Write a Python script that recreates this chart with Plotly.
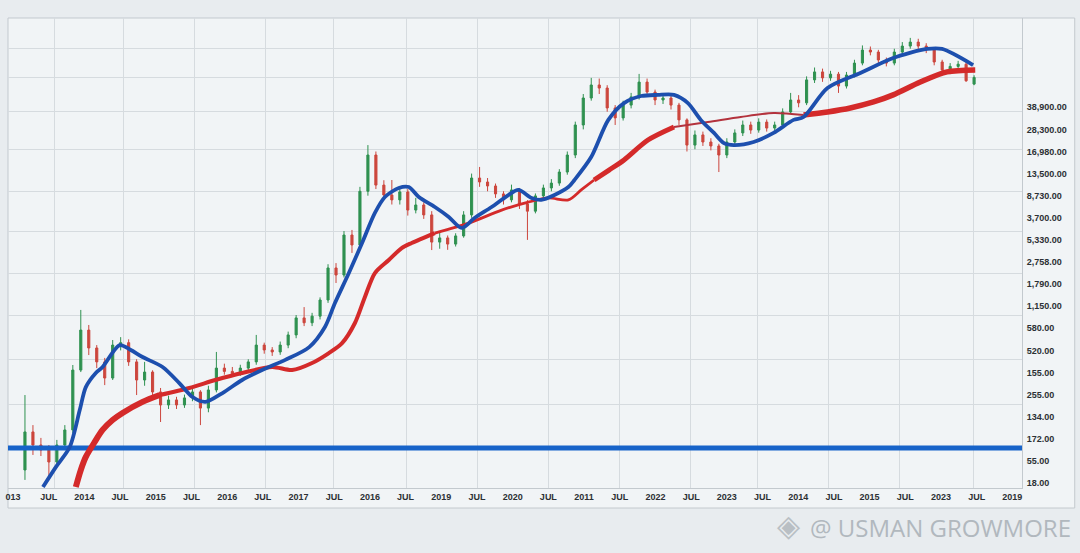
import numpy as np
import plotly.graph_objects as go

# ---------------- data ----------------
x_labels = ["013", "JUL", "2014", "JUL", "2015", "JUL", "2016", "JUL", "2017", "JUL",
            "2016", "JUL", "2019", "JUL", "2020", "JUL", "2011", "JUL", "2022", "JUL",
            "2023", "JUL", "2014", "JUL", "2015", "JUL", "2023", "JUL", "2019"]
y_labels = ["18.00", "55.00", "172.00", "134.00", "255.00", "155.00", "520.00", "580.00",
            "1,150.00", "1,790.00", "2,758.00", "5,330.00", "3,700.00", "8,730.00",
            "13,500.00", "16,980.00", "28,300.00", "38,900.00"]

# candles (values in axis units)
c_open = [0.59, 2.31, 1.72, 1.49, 0.95, 1.72, 2.40, 5.11, 6.92, 6.11,
          5.48, 4.75, 6.24, 6.35, 5.48, 4.66, 5.02, 4.12, 3.53, 3.76,
          3.53, 3.85, 4.12, 3.39, 4.21, 5.20, 5.05, 4.95, 5.20, 5.48,
          6.24, 6.02, 5.93, 6.24, 6.70, 7.47, 7.25, 7.55, 8.28, 9.73,
          9.41, 11.22, 10.77, 13.20, 14.84, 13.48, 13.03, 12.81, 13.17, 12.35,
          12.58, 12.13, 10.90, 11.09, 10.81, 11.18, 12.13, 13.80, 13.62, 13.44,
          13.08, 12.81, 13.26, 12.62, 12.30, 12.99, 13.35, 13.57, 14.07, 14.84,
          16.20, 17.42, 18.01, 17.87, 16.97, 16.52, 17.10, 17.47, 18.14, 17.69,
          17.33, 17.42, 17.10, 16.43, 15.29, 15.75, 15.43, 15.25, 14.84, 15.43,
          15.84, 16.20, 15.97, 16.33, 16.06, 16.20, 16.79, 17.33, 17.20, 18.24,
          18.60, 18.33, 18.50, 17.96, 18.46, 19.00, 19.59, 19.50, 19.14, 19.00,
          19.50, 19.77, 19.95, 19.77, 19.60, 19.05, 18.69, 18.85, 18.95, 18.05]
c_high = [3.98, 2.62, 2.04, 1.72, 1.95, 2.62, 5.34, 7.83, 7.15, 6.24,
          5.66, 6.47, 6.60, 6.50, 5.60, 5.48, 5.10, 4.30, 3.95, 3.90,
          4.00, 4.30, 4.20, 4.40, 5.93, 5.40, 5.25, 5.35, 5.60, 6.70,
          6.35, 6.15, 6.40, 6.85, 7.60, 7.96, 7.70, 8.40, 9.90, 9.95,
          11.40, 11.45, 13.40, 15.29, 15.00, 13.70, 13.71, 13.40, 13.30, 12.90,
          12.70, 12.30, 11.35, 11.20, 11.30, 12.30, 14.00, 14.30, 13.80, 13.55,
          13.20, 13.50, 13.35, 12.80, 13.10, 13.50, 13.75, 14.20, 15.00, 16.35,
          17.60, 18.33, 18.30, 18.00, 17.10, 17.30, 17.65, 18.51, 18.30, 17.80,
          17.60, 17.55, 17.20, 16.50, 15.95, 15.90, 15.60, 15.35, 15.60, 16.00,
          16.40, 16.35, 16.50, 16.45, 16.35, 16.95, 17.65, 17.55, 18.40, 18.80,
          18.75, 18.65, 18.60, 18.60, 19.15, 19.80, 19.75, 19.60, 19.25, 19.65,
          19.95, 20.14, 20.10, 19.90, 19.70, 19.15, 19.00, 19.10, 19.10, 18.45]
c_low = [0.14, 1.27, 1.22, 0.23, 0.77, 1.49, 2.26, 5.02, 5.79, 5.20,
         4.43, 4.66, 6.00, 5.30, 3.98, 4.40, 3.90, 2.76, 3.35, 3.35,
         3.40, 3.70, 2.62, 3.20, 4.10, 4.90, 4.80, 4.85, 5.05, 5.35,
         5.85, 5.75, 5.80, 6.10, 6.55, 7.10, 7.10, 7.40, 8.15, 9.05,
         9.30, 10.41, 10.60, 13.00, 13.30, 12.80, 12.60, 12.60, 12.10, 12.20,
         11.95, 10.54, 10.60, 10.55, 10.70, 11.10, 12.00, 13.40, 13.20, 12.90,
         12.60, 12.70, 12.40, 11.00, 12.20, 12.85, 13.20, 13.45, 13.95, 14.70,
         16.00, 17.30, 17.60, 16.80, 16.20, 16.40, 16.95, 17.35, 17.50, 17.10,
         17.15, 16.90, 16.20, 15.00, 15.10, 15.25, 15.05, 14.07, 14.70, 15.30,
         15.70, 15.80, 15.85, 15.90, 15.95, 16.10, 16.70, 17.00, 17.10, 18.10,
         18.15, 18.20, 17.65, 17.85, 18.35, 18.90, 19.35, 18.95, 18.85, 18.90,
         19.40, 19.65, 19.60, 19.45, 18.90, 18.50, 18.50, 18.70, 18.15, 18.00]
c_close = [2.31, 1.72, 1.49, 0.95, 1.72, 2.40, 5.11, 6.92, 6.11, 5.48,
           4.75, 6.24, 6.35, 5.48, 4.66, 5.02, 4.12, 3.53, 3.76, 3.53,
           3.85, 4.12, 3.39, 4.21, 5.20, 5.05, 4.95, 5.20, 5.48, 6.24,
           6.02, 5.93, 6.24, 6.70, 7.47, 7.25, 7.55, 8.28, 9.73, 9.41,
           11.22, 10.77, 13.20, 14.84, 13.48, 13.03, 12.81, 13.17, 12.35, 12.58,
           12.13, 10.90, 11.09, 10.81, 11.18, 12.13, 13.80, 13.62, 13.44, 13.08,
           12.81, 13.26, 12.62, 12.30, 12.99, 13.35, 13.57, 14.07, 14.84, 16.20,
           17.42, 18.01, 17.87, 16.97, 16.52, 17.10, 17.47, 18.14, 17.69, 17.33,
           17.42, 17.10, 16.43, 15.29, 15.75, 15.43, 15.25, 14.84, 15.43, 15.84,
           16.20, 15.97, 16.33, 16.06, 16.20, 16.79, 17.33, 17.20, 18.24, 18.60,
           18.33, 18.50, 17.96, 18.46, 19.00, 19.59, 19.50, 19.14, 19.00, 19.50,
           19.77, 19.95, 19.77, 19.60, 19.05, 18.69, 18.85, 18.95, 18.20, 18.35]

# fast moving average (blue)
blue_x = [0.84, 1.20, 1.59, 1.87, 2.04, 2.32, 2.51, 2.99, 3.30, 3.63,
          4.19, 4.66, 5.03, 5.39, 5.87, 6.42, 6.98, 7.63, 8.30, 8.74,
          9.02, 9.41, 9.78, 10.14, 10.42, 10.81, 11.09, 11.37, 11.82, 12.21,
          12.57, 12.93, 13.41, 13.88, 14.16, 14.53, 14.80, 15.17, 15.56, 15.73,
          16.20, 16.68, 17.12, 17.60, 18.07, 18.52, 18.91, 19.27, 19.64, 19.92,
          20.20, 20.75, 21.31, 21.87, 22.15, 22.82, 23.74, 24.66, 25.61, 26.03, 26.90]
blue_y = [-0.18, 0.72, 1.63, 3.30, 4.34, 4.98, 5.25, 6.24, 6.02, 5.70,
          5.25, 4.52, 3.89, 3.67, 4.07, 4.66, 5.11, 5.57, 6.15, 7.06,
          8.14, 9.50, 10.86, 12.22, 12.94, 13.35, 13.39, 12.94, 12.49, 12.04,
          11.54, 11.99, 12.49, 13.03, 13.26, 12.90, 12.81, 13.03, 13.39, 13.71,
          14.75, 16.43, 17.19, 17.51, 17.56, 17.56, 17.19, 16.43, 15.84, 15.38,
          15.29, 15.43, 15.84, 16.43, 16.56, 17.87, 18.55, 19.23, 19.64, 19.64, 18.91]

# slow moving average (red)
red_x = [1.76, 1.90, 2.04, 2.29, 2.51, 2.79, 3.07, 3.63, 4.11, 4.94,
         5.67, 6.42, 7.26, 7.82, 8.38, 8.85, 9.22, 9.58, 9.86, 10.14,
         10.53, 10.89, 11.17, 11.82, 12.77, 13.69, 14.44, 15.00, 15.56, 15.92,
         16.28, 16.70, 17.12, 17.79, 18.52, 19.47, 20.39, 21.31, 22.15, 22.82,
         23.46, 24.11, 24.66, 25.42, 26.17, 26.96]
red_y = [-0.18, 0.59, 1.18, 1.86, 2.40, 2.85, 3.17, 3.67, 3.98, 4.30,
         4.66, 4.98, 5.25, 5.11, 5.43, 5.88, 6.33, 7.24, 8.42, 9.50,
         10.09, 10.63, 10.86, 11.31, 11.76, 12.35, 12.71, 12.90, 12.81, 13.26,
         13.71, 14.16, 14.62, 15.52, 16.11, 16.33, 16.56, 16.74, 16.65, 16.79,
         16.97, 17.24, 17.56, 18.14, 18.60, 18.69]

support_level = 1.58

# ---------------- layout constants ----------------
W, H = 1080, 553
X_RANGE = [-0.14, 28.27]
Y_RANGE = [-0.226, 21.04]
CANDLE_X0, CANDLE_STEP = 12 / 35.8, 8 / 35.8
x_grid = [1.17, 3.10, 5.08, 7.07, 8.99, 11.03, 13.02, 15.0, 16.98, 18.99, 20.87, 22.85, 24.83, 26.9]
y_grid = [1.58, 3.57, 5.61, 7.56, 9.46, 11.36, 13.17, 15.07, 16.79, 18.33, 19.68]

candle_x = CANDLE_X0 + CANDLE_STEP * np.arange(len(c_close))

GREEN = "#2f9150"
RED = "#cc463d"
BLUE = "#1d4fae"
MA_RED = "#d42a2a"
MA_RED_THIN = "#b3323d"
LEVEL_BLUE = "#1763c9"

fig = go.Figure()

fig.add_trace(go.Candlestick(
    x=candle_x, open=c_open, high=c_high, low=c_low, close=c_close,
    increasing=dict(line=dict(color=GREEN, width=1), fillcolor=GREEN),
    decreasing=dict(line=dict(color=RED, width=1), fillcolor=RED),
    whiskerwidth=0, hoverinfo="skip", showlegend=False,
))

# support level line
fig.add_trace(go.Scatter(
    x=X_RANGE, y=[support_level, support_level], mode="lines",
    line=dict(color=LEVEL_BLUE, width=5), hoverinfo="skip", showlegend=False,
))

# red MA drawn in segments of varying thickness
segments = [(0, 8, 6, MA_RED), (8, 23, 4, MA_RED), (23, 30, 2.8, MA_RED),
            (30, 34, 5, MA_RED), (34, 38, 2, MA_RED_THIN), (38, 45, 5.5, MA_RED)]
for a, b, w, col in segments:
    fig.add_trace(go.Scatter(
        x=red_x[a:b + 1], y=red_y[a:b + 1], mode="lines",
        line=dict(color=col, width=w, shape="spline", smoothing=0.8),
        hoverinfo="skip", showlegend=False,
    ))

fig.add_trace(go.Scatter(
    x=blue_x, y=blue_y, mode="lines",
    line=dict(color=BLUE, width=3.8, shape="spline", smoothing=0.8),
    hoverinfo="skip", showlegend=False,
))

tick_font = dict(family="Liberation Sans", size=9, color="#2c3034", weight="bold")

fig.update_layout(
    width=W, height=H,
    margin=dict(l=5, r=58, t=18, b=65),
    paper_bgcolor="#e8ecef",
    plot_bgcolor="#f3f6f8",
    showlegend=False,
    boxgap=0.62,
    xaxis=dict(
        range=X_RANGE, tickmode="array", tickvals=list(range(len(x_labels))),
        ticktext=x_labels, showgrid=False, zeroline=False,
        showline=True, linecolor="#c3c9ce", linewidth=1, ticks="",
        tickfont=tick_font, rangeslider=dict(visible=False), fixedrange=True,
        minor=dict(tickmode="array", tickvals=x_grid, showgrid=True,
                   gridcolor="#d6dbdf", gridwidth=1, ticks=""),
    ),
    yaxis=dict(
        range=Y_RANGE, side="right", tickmode="array",
        tickvals=list(range(len(y_labels))), ticktext=y_labels,
        showgrid=False, zeroline=False, showline=True, linecolor="#c3c9ce",
        linewidth=1, ticks="", ticklabelstandoff=2, tickfont=tick_font,
        fixedrange=True,
        minor=dict(tickmode="array", tickvals=y_grid, showgrid=True,
                   gridcolor="#d6dbdf", gridwidth=1, ticks=""),
    ),
    shapes=[
        dict(type="rect", xref="paper", yref="paper", x0=0, x1=1.052,
             y0=-0.0426, y1=1, line=dict(color="#c3c9ce", width=1),
             fillcolor="#f1f4f6", layer="below"),
    ],
    annotations=[
        dict(xref="paper", yref="paper", x=1.050, y=-0.083, xanchor="right",
             yanchor="middle", showarrow=False, text="@ USMAN GROWMORE",
             font=dict(family="Open Sans", size=24, color="#b1b8be")),
        dict(xref="paper", yref="paper", x=0.770, y=-0.080, xanchor="center",
             yanchor="middle", showarrow=False, text="◈",
             font=dict(family="DejaVu Sans", size=30, color="#b9bfc4")),
    ],
)

fig.write_html("out.html", config={"displayModeBar": False},
               post_script="document.body.style.margin='0px';")
